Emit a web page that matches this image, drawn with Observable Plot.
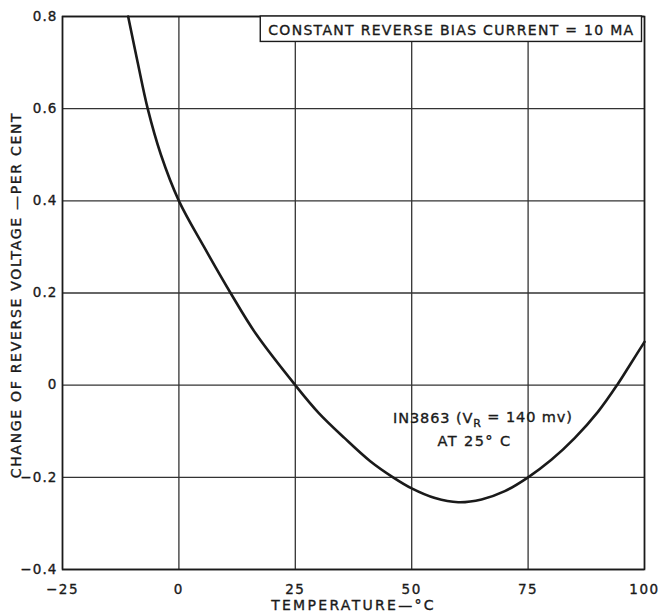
<!DOCTYPE html>
<html><head><meta charset="utf-8">
<script src="https://cdn.jsdelivr.net/npm/d3@7"></script>
<script src="https://cdn.jsdelivr.net/npm/@observablehq/plot@0.6"></script>
<style>
html,body{margin:0;padding:0;background:#fff;}
#chart{width:664px;height:614px;}
</style></head>
<body><div id="chart"></div>
<script>
const temperature = [-10.9, -8.85, -6.7, -3.86, 0, 5.4, 11.1, 16.5, 25, 30, 35.6, 41.1, 46, 50, 55, 60, 65, 70, 75, 80, 85, 90, 94.1, 97, 100];
const change = [0.8, 0.7, 0.6, 0.5, 0.4, 0.3, 0.2, 0.112, 0, -0.06, -0.115, -0.165, -0.2, -0.224, -0.245, -0.254, -0.248, -0.23, -0.2, -0.162, -0.115, -0.058, 0, 0.046, 0.094];
const xTicks = [-25, 0, 25, 50, 75, 100];
const yTicks = [-0.4, -0.2, 0, 0.2, 0.4, 0.6, 0.8];
const legendText = "CONSTANT REVERSE BIAS CURRENT = 10 MA";
const seriesLabel = ["IN3863 (V_R = 140 mv)", "AT 25° C"];
const xLabel = "TEMPERATURE—°C";
const yLabel = "CHANGE OF REVERSE VOLTAGE —PER CENT";

const data = temperature.map((t, i) => ({t, v: change[i]}));
const ink = "#1a1a1a";

const plot = Plot.plot({
  width: 664, height: 614,
  marginLeft: 62, marginRight: 20, marginTop: 16, marginBottom: 45,
  style: {fontFamily: "DejaVu Sans", fontSize: "13.5px", color: ink, background: "#fff"},
  x: {domain: [-25, 100], ticks: xTicks},
  y: {domain: [-0.4, 0.8], ticks: yTicks},
  marks: [
    Plot.gridX(xTicks, {stroke: "#333", strokeOpacity: 1, strokeWidth: 1.3}),
    Plot.gridY(yTicks, {stroke: "#333", strokeOpacity: 1, strokeWidth: 1.3}),
    Plot.frame({stroke: ink, strokeWidth: 1.6}),
    Plot.axisX(xTicks, {tickSize: 0, tickPadding: 15, fontSize: 13.5,
      tickFormat: d => d3.format("d")(d), label: null}),
    Plot.axisY(yTicks, {tickSize: 0, tickPadding: 5, fontSize: 13.5, className: "ytick",
      tickFormat: d => d === 0 ? "0" : d3.format(".1f")(d), label: null}),
    Plot.text([xLabel], {frameAnchor: "bottom", dy: 40, fontSize: 14, fill: ink, className: "xtitle"}),
    Plot.text([yLabel], {frameAnchor: "left", textAnchor: "middle", dx: -46, dy: 2, rotate: -90, fontSize: 14, fill: ink, className: "ytitle"}),
    Plot.line(data, {x: "t", y: "v", curve: "catmull-rom", stroke: ink, strokeWidth: 2.6}),
    Plot.text([legendText], {frameAnchor: "top-right", dx: -10, dy: 9, fontSize: 14, fill: ink, className: "legendtxt"}),
    Plot.text([seriesLabel[0]], {x: [65.4], y: [-0.072], fontSize: 14.5, fill: ink, className: "serieslbl"}),
    Plot.text([seriesLabel[1]], {x: [63.6], y: [-0.123], fontSize: 14.5, fill: ink, className: "serieslbl2"})
  ]
});
document.getElementById("chart").appendChild(plot);
const svg = d3.select(plot);
const xs = plot.scale("x");

// wide, medium-weight technical lettering
svg.selectAll("text").attr("letter-spacing", "1.5")
  .attr("stroke", ink).attr("stroke-width", 0.35).attr("paint-order", "fill");
svg.selectAll("g.ytick text").attr("letter-spacing", "1.1");
svg.selectAll("g.xtitle text").attr("letter-spacing", "2.3");
svg.selectAll("g.ytitle text").attr("letter-spacing", "1.7");
svg.selectAll("g.legendtxt text").attr("letter-spacing", "1.3");
svg.selectAll("g.serieslbl text").attr("letter-spacing", "0.9");
svg.selectAll("g.serieslbl2 text").attr("letter-spacing", "1.4");

// subscript in the series label
svg.selectAll("g.serieslbl text").each(function() {
  const [pre, post] = this.textContent.split("V_R");
  const el = d3.select(this);
  el.text(null);
  el.append("tspan").text(pre + "V");
  el.append("tspan").attr("dy", "0.35em").attr("font-size", "11px").text("R");
  el.append("tspan").attr("dy", "-0.35em").text(post);
});
// keep each series label centred on its anchor temperature
const sb = plot.getBoundingClientRect();
[["g.serieslbl text", 65.4], ["g.serieslbl2 text", 63.6]].forEach(([sel, t]) => {
  svg.selectAll(sel).each(function() {
    const b = this.getBoundingClientRect();
    const cx = (b.left + b.right) / 2 - sb.left;
    const shift = xs.apply(t) - cx;
    const tr = this.getAttribute("transform") || "";
    this.setAttribute("transform", `translate(${shift},0) ${tr}`);
  });
});

// box around the legend text, measured from the rendered text
svg.selectAll("g.legendtxt text").each(function() {
  const b = this.getBoundingClientRect();
  const x0 = b.left - sb.left - 8, x1 = b.right - sb.left + 7;
  const y1 = b.bottom - sb.top + 3;
  const top = 16;
  svg.insert("rect", "g.legendtxt")
    .attr("x", x0).attr("y", top).attr("width", x1 - x0).attr("height", y1 - top)
    .attr("fill", "#fff").attr("stroke", ink).attr("stroke-width", 1.4);
});
</script>
</body></html>
